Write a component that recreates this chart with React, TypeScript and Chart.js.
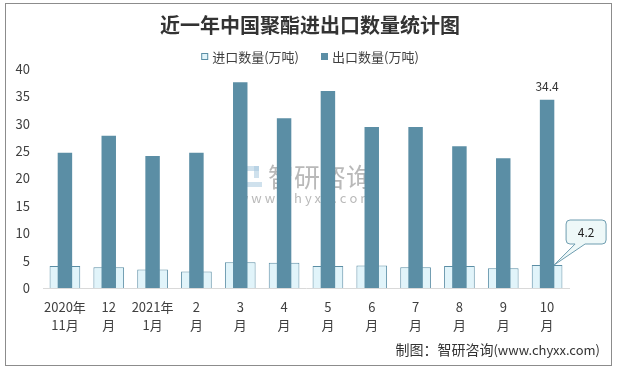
import React, { useEffect, useRef } from "react";
import Chart from "chart.js/auto";

const categories: string[][] = [
  ["2020年", "11月"], ["12", "月"], ["2021年", "1月"], ["2", "月"], ["3", "月"], ["4", "月"],
  ["5", "月"], ["6", "月"], ["7", "月"], ["8", "月"], ["9", "月"], ["10", "月"],
];
const importValues = [4.0, 3.8, 3.4, 3.0, 4.7, 4.6, 4.0, 4.1, 3.8, 4.0, 3.6, 4.2];
const exportValues = [24.7, 27.8, 24.1, 24.7, 37.6, 31.0, 36.0, 29.4, 29.4, 25.9, 23.7, 34.4];
const yMin = 0;
const yMax = 40;
const yStep = 5;
const seriesNames = ["进口数量(万吨)", "出口数量(万吨)"];
const titleText = "近一年中国聚酯进出口数量统计图";
const sourceLabel = "制图：智研咨询";
const sourceSite = "(www.chyxx.com)";
const watermarkName = "智研咨询";
const watermarkSite = "w w w . c h y x x . c o m";

const FONT = '"Noto Sans CJK SC", "Liberation Sans", sans-serif';
const DARK = "#5B8EA5";
const LIGHT = "#E1F4FA";
const TEXT = "#404040";

const overlay = {
  id: "overlay",
  beforeDatasetsDraw(chart: any) {
    const ctx = chart.ctx;
    ctx.save();
    // watermark (behind bars)
    ctx.globalAlpha = 0.55;
    ctx.fillStyle = "#A8C8DE";
    ctx.fillRect(239, 166, 6, 21);
    ctx.fillRect(245, 166, 14, 5);
    ctx.fillRect(254, 166, 5, 12);
    ctx.fillRect(245, 182, 17, 5);
    ctx.fillStyle = "#7f7f7f";
    ctx.font = `26px ${FONT}`;
    ctx.textAlign = "left";
    ctx.textBaseline = "middle";
    ctx.fillText(watermarkName, 268, 177);
    ctx.font = `13px ${FONT}`;
    ctx.fillText(watermarkSite, 238, 198);
    ctx.restore();
  },
  afterDraw(chart: any) {
    const ctx = chart.ctx;
    const W = chart.width;
    ctx.save();
    // outer border
    ctx.strokeStyle = "#8c8c8c";
    ctx.lineWidth = 1;
    ctx.strokeRect(5.5, 3.5, 606, 362);

    // title
    ctx.fillStyle = "#333333";
    ctx.font = `bold 20px ${FONT}`;
    ctx.textAlign = "center";
    ctx.textBaseline = "middle";
    ctx.fillText(titleText, 310, 25);

    // legend
    ctx.font = `13px ${FONT}`;
    ctx.textAlign = "left";
    const box = 7, gapBox = 4, gapItem = 22;
    const widths = seriesNames.map((n) => box + gapBox + ctx.measureText(n).width);
    const total = widths[0] + widths[1] + gapItem;
    let lx = 310 - total / 2;
    const ly = 57;
    seriesNames.forEach((n, i) => {
      if (i === 0) {
        ctx.fillStyle = LIGHT;
        ctx.fillRect(lx, ly - 4, box, box);
        ctx.strokeStyle = DARK;
        ctx.strokeRect(lx + 0.5, ly - 3.5, box - 1, box - 1);
      } else {
        ctx.fillStyle = DARK;
        ctx.fillRect(lx, ly - 4, box, box);
      }
      ctx.fillStyle = TEXT;
      ctx.fillText(n, lx + box + gapBox, ly);
      lx += widths[i] + gapItem;
    });

    // data label on last export bar
    const expMeta = chart.getDatasetMeta(1);
    const last = exportValues.length - 1;
    const eb = expMeta.data[last];
    ctx.fillStyle = "#333333";
    ctx.font = `12px ${FONT}`;
    ctx.textAlign = "center";
    ctx.fillText(String(exportValues[last]), eb.x, eb.y - 13);

    // callout on last import bar
    const impMeta = chart.getDatasetMeta(0);
    const ib = impMeta.data[last];
    const tipX = ib.x + 7, tipY = ib.y;
    const bx = tipX + 12, bw = 40, bh = 24, by = tipY - 21 - bh;
    const r = 4;
    ctx.beginPath();
    ctx.moveTo(bx + r, by);
    ctx.lineTo(bx + bw - r, by);
    ctx.quadraticCurveTo(bx + bw, by, bx + bw, by + r);
    ctx.lineTo(bx + bw, by + bh - r);
    ctx.quadraticCurveTo(bx + bw, by + bh, bx + bw - r, by + bh);
    ctx.lineTo(bx + 19, by + bh);
    ctx.lineTo(tipX, tipY);
    ctx.lineTo(bx + 9, by + bh);
    ctx.lineTo(bx + r, by + bh);
    ctx.quadraticCurveTo(bx, by + bh, bx, by + bh - r);
    ctx.lineTo(bx, by + r);
    ctx.quadraticCurveTo(bx, by, bx + r, by);
    ctx.closePath();
    ctx.fillStyle = "#EEF8F8";
    ctx.fill();
    ctx.strokeStyle = "#6E9DB0";
    ctx.lineWidth = 1;
    ctx.stroke();
    ctx.fillStyle = "#222222";
    ctx.font = `12px ${FONT}`;
    ctx.textAlign = "center";
    ctx.fillText(String(importValues[last]), bx + bw / 2, by + bh / 2);

    // source
    ctx.fillStyle = "#333333";
    ctx.textAlign = "right";
    ctx.font = `13px ${FONT}`;
    const siteW = ctx.measureText(sourceSite).width;
    ctx.fillText(sourceSite, 600, 350);
    ctx.font = `14px ${FONT}`;
    ctx.fillText(sourceLabel, 600 - siteW, 350);
    ctx.restore();
  },
};

export default function App() {
  const ref = useRef<HTMLCanvasElement | null>(null);
  useEffect(() => {
    if (!ref.current) return;
    const chart = new Chart(ref.current, {
      type: "bar",
      data: {
        labels: categories,
        datasets: [
          {
            label: seriesNames[0],
            data: importValues,
            backgroundColor: LIGHT,
            borderColor: DARK,
            borderWidth: 1,
            barPercentage: 0.7,
            categoryPercentage: 1,
            grouped: false,
            order: 1,
          },
          {
            label: seriesNames[1],
            data: exportValues,
            backgroundColor: DARK,
            borderWidth: 0,
            barPercentage: 0.33,
            categoryPercentage: 1,
            grouped: false,
            order: 0,
          },
        ],
      },
      options: {
        responsive: false,
        animation: false,
        layout: { padding: { top: 69, right: 48, bottom: 0, left: 0 } },
        plugins: {
          legend: { display: false },
          title: { display: false },
          tooltip: { enabled: false },
        },
        scales: {
          x: {
            grid: { display: false, drawTicks: false },
            border: { display: true, color: "#D9D9D9", width: 1 },
            ticks: {
              color: TEXT,
              font: { family: FONT, size: 13, lineHeight: 18 / 13 },
              padding: 10,
              maxRotation: 0,
              autoSkip: false,
            },
            afterFit: (s: any) => { s.height = 81; },
          },
          y: {
            min: yMin,
            max: yMax,
            grid: { display: false, drawTicks: false },
            border: { display: false },
            ticks: {
              stepSize: yStep,
              color: TEXT,
              font: { family: FONT, size: 13 },
              padding: 13,
            },
            afterFit: (s: any) => { s.width = 43; },
          },
        },
      },
      plugins: [overlay],
    });
    return () => chart.destroy();
  }, []);
  return (
    <div style={{ position: "absolute", left: 0, top: 0, width: 617, height: 369, background: "#fff" }}>
      <canvas ref={ref} width={617} height={369} style={{ width: 617, height: 369 }} />
    </div>
  );
}
